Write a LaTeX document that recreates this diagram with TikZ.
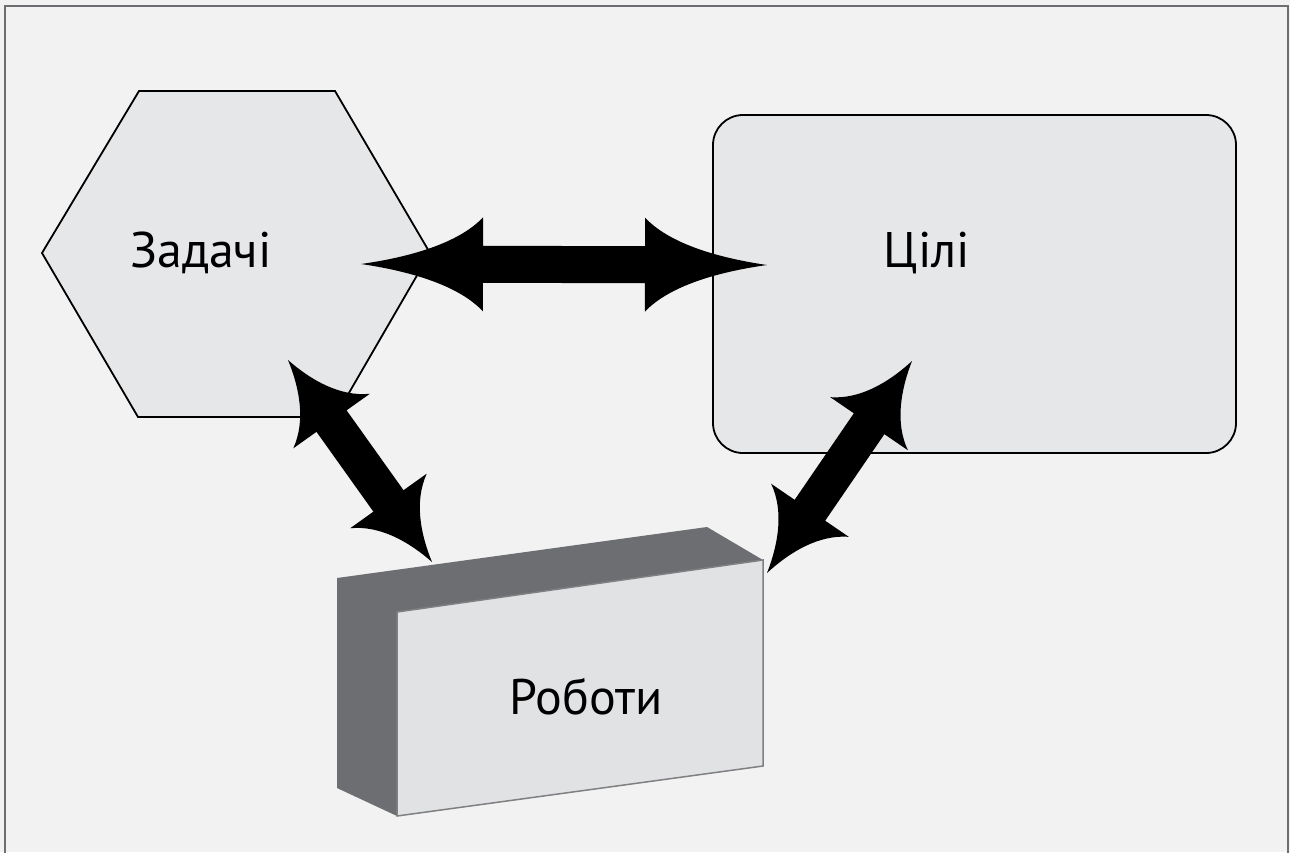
\documentclass[tikz,border=0pt]{standalone}
\usepackage{fontspec}
\setmainfont{PT Sans}
\usetikzlibrary{calc}
\definecolor{bg}{HTML}{F2F2F2}
\definecolor{frame}{HTML}{6D6E71}
\definecolor{shapegray}{HTML}{E6E7E8}
\definecolor{boxfront}{HTML}{E1E2E4}
\definecolor{boxside}{HTML}{6D6E71}
\definecolor{boxedge}{HTML}{808083}
\tikzset{
  lbl/.style={font=\fontsize{50}{54}\selectfont, text=black, inner sep=0pt, anchor=base},
  shapestyle/.style={fill=shapegray, draw=black, line width=1.8pt, line join=miter},
}
% #1 start, #2 end, #3 head length; head half-width 47, shaft half-width 18.5
\newcommand\fatarrow[3]{%
  \fill[black] let \p1=(#1), \p2=(#2),
    \n1={atan2(\y2-\y1,\x2-\x1)}, \n2={veclen(\x2-\x1,\y2-\y1)} in
    [shift={(\p1)}, rotate=\n1]
    (0,0) .. controls ({0.4*#3},7) and ({0.8*#3},21) .. (#3,47)
    -- (#3,18.5) -- ({\n2-#3},18.5) -- ({\n2-#3},47)
    .. controls ({\n2-0.8*#3},21) and ({\n2-0.4*#3},7) .. (\n2,0)
    .. controls ({\n2-0.4*#3},-7) and ({\n2-0.8*#3},-21) .. ({\n2-#3},-47)
    -- ({\n2-#3},-18.5) -- (#3,-18.5) -- (#3,-47)
    .. controls ({0.8*#3},-21) and ({0.4*#3},-7) .. (0,0) -- cycle;}
\begin{document}
\begin{tikzpicture}[x=1pt,y=-1pt]
\useasboundingbox (0,0) rectangle (1290,852);
\clip (0,0) rectangle (1290,852);
\fill[bg] (0,0) rectangle (1290,852);
\draw[frame, line width=2.5pt] (5,6) rectangle (1288,870);
% hexagon
\draw[shapestyle] (139,91) -- (335,91) -- (430,253) -- (335,417) -- (138,417) -- (42,253) -- cycle;
\node[lbl] (tasks) at (201,267) {Задачі};
% rounded rectangle
\draw[shapestyle, rounded corners=30pt] (713,115) rectangle (1236,453);
\node[lbl] (goals) at (927,267) {Цілі};
% box
\fill[boxside] (337,578) -- (707,527) -- (763,560) -- (397,612) -- (397,816) -- (337,788) -- cycle;
\draw[fill=boxfront, draw=boxedge, line width=1.5pt] (397,612) -- (763,560) -- (763,766) -- (397,816) -- cycle;
\node[lbl] (works) at (586,714) {Роботи};
% arrow ends
\coordinate (hl) at (361,264);
\coordinate (hr) at (767,265);
\coordinate (la) at (288,360);
\coordinate (lb) at (432,562);
\coordinate (ra) at (912,361);
\coordinate (rb) at (767,573);
\fatarrow{hl}{hr}{122}
\fatarrow{la}{lb}{75}
\fatarrow{ra}{rb}{76}
\end{tikzpicture}
\end{document}
